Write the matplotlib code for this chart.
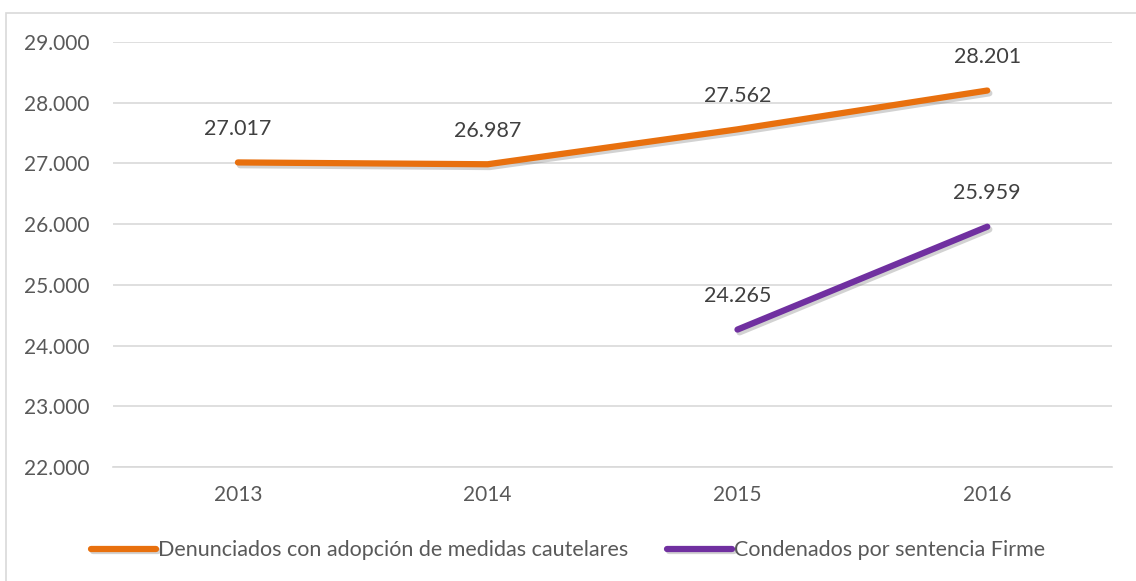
import matplotlib.pyplot as plt
import matplotlib.patheffects as pe
from matplotlib.patches import Rectangle

years = ["2013", "2014", "2015", "2016"]
denunciados = [27017, 26987, 27562, 28201]
condenados_years = ["2015", "2016"]
condenados = [24265, 25959]
yticks = [22000, 23000, 24000, 25000, 26000, 27000, 28000, 29000]


def fmt(v):
    return f"{v:,}".replace(",", ".")


plt.rcParams['font.family'] = ['Lato', 'DejaVu Sans']

fig = plt.figure(figsize=(11.36, 5.81), dpi=100)
ax = fig.add_axes([0.0995, 0.196, 0.8795, 0.7317])

# outer frame of the chart
fig.patches.append(Rectangle((0.005, -0.01), 1.0, 0.988, transform=fig.transFigure,
                             fill=False, edgecolor="#d9d9d9", linewidth=1.2))

x_all = list(range(len(years)))
x_cond = [years.index(y) for y in condenados_years]
shadow = [pe.SimpleLineShadow(offset=(1.5, -2), shadow_color="gray", alpha=0.35), pe.Normal()]

ax.plot(x_all, denunciados, color="#E8700E", linewidth=4.5, solid_capstyle="round",
        label="Denunciados con adopción de medidas cautelares", path_effects=shadow)
ax.plot(x_cond, condenados, color="#7030A0", linewidth=4.5, solid_capstyle="round",
        label="Condenados por sentencia Firme", path_effects=shadow)

for xi, v in zip(x_all, denunciados):
    ax.annotate(fmt(v), (xi, v), xytext=(0, 24), textcoords="offset points",
                ha="center", va="center", fontsize=15.5, color="#404040")
for xi, v in zip(x_cond, condenados):
    ax.annotate(fmt(v), (xi, v), xytext=(0, 24), textcoords="offset points",
                ha="center", va="center", fontsize=15.5, color="#404040")

ax.set_xlim(-0.5, 3.5)
ax.set_ylim(22000, 29000)
ax.set_yticks(yticks)
ax.set_yticklabels([fmt(v) for v in yticks])
ax.set_xticks(x_all)
ax.set_xticklabels(years)
ax.tick_params(length=0, labelsize=15, labelcolor="#595959", pad=17)
ax.tick_params(axis="x", pad=13)
ax.grid(axis="y", color="#d9d9d9", linewidth=1.2)
ax.set_axisbelow(True)
for s in ax.spines.values():
    s.set_visible(False)
ax.spines["bottom"].set_visible(True)
ax.spines["bottom"].set_color("#d9d9d9")
ax.spines["bottom"].set_linewidth(1.2)

fig.legend(loc="center", bbox_to_anchor=(0.5, 0.053), ncol=2, frameon=False,
           fontsize=15.5, labelcolor="#595959", handlelength=3.0, handletextpad=0.1,
           columnspacing=1.8)

fig.savefig("out.png", dpi=100)
